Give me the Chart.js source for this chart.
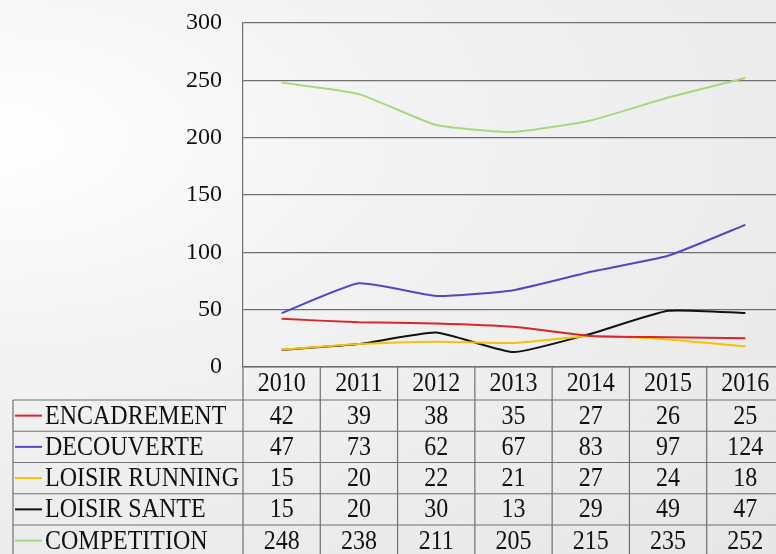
<!DOCTYPE html>
<html>
<head>
<meta charset="utf-8">
<script src="https://cdn.jsdelivr.net/npm/chart.js@4.4.0/dist/chart.umd.min.js"></script>
<style>
    html, body {
        margin: 0;
        padding: 0;
        width: 776px;
        height: 554px;
        overflow: hidden;
        background: radial-gradient(ellipse at 0% 25%, #ffffff 0%, #f3f3f3 35%, #e6e6e6 100%);
    }
    .chart-wrap {
        position: absolute;
        left: 0;
        top: 0;
        width: 784px;
        height: 554px;
    }
</style>
</head>
<body>
<div class="chart-wrap"><canvas id="stats-chart"></canvas></div>
<script>
// Data
var years = ['2010', '2011', '2012', '2013', '2014', '2015', '2016'];
var seriesNames = ['ENCADREMENT', 'DECOUVERTE', 'LOISIR RUNNING', 'LOISIR SANTE', 'COMPETITION'];
var encadrement = [42, 39, 38, 35, 27, 26, 25];
var decouverte = [47, 73, 62, 67, 83, 97, 124];
var loisirRunning = [15, 20, 22, 21, 27, 24, 18];
var loisirSante = [15, 20, 30, 13, 29, 49, 47];
var competition = [248, 238, 211, 205, 215, 235, 252];
var yTicks = [0, 50, 100, 150, 200, 250, 300];

var seriesValues = [encadrement, decouverte, loisirRunning, loisirSante, competition];
var seriesColors = ['#d8262c', '#5048c4', '#f2c20a', '#111111', '#a9d67e'];

var gridColor = '#707070',
    textColor = '#111111',
    serifFont = '"Liberation Serif", "Times New Roman", serif';

// Table under the plot (header row + one row per series)
var tableLayout = {
    headerHeight: 33,
    rowHeight: 31.25,
    left: 13,
    lineX1: 15,
    lineX2: 42,
    textX: 45
};

function drawText(ctx, text, x, y, align) {
    ctx.save();
    ctx.translate(x, y);
    ctx.scale(1, 1.1);
    ctx.textAlign = align;
    ctx.textBaseline = 'middle';
    ctx.fillText(text, 0, 0);
    ctx.restore();
}

var dataTable = {
    id: 'dataTable',
    afterDraw: function (chart) {
        var ctx = chart.ctx,
            xScale = chart.scales.x,
            area = chart.chartArea,
            top = area.bottom,
            rowsTop = top + tableLayout.headerHeight,
            bottom = rowsTop + tableLayout.rowHeight * seriesNames.length,
            colW = xScale.getPixelForValue(1) - xScale.getPixelForValue(0);

        ctx.save();
        ctx.strokeStyle = gridColor;
        ctx.lineWidth = 1.2;

        // horizontal lines
        ctx.beginPath();
        ctx.moveTo(area.left, top);
        ctx.lineTo(chart.width, top);
        for (var r = 0; r <= seriesNames.length; r++) {
            var y = rowsTop + r * tableLayout.rowHeight;
            ctx.moveTo(tableLayout.left, y);
            ctx.lineTo(chart.width, y);
        }
        // vertical lines
        ctx.moveTo(tableLayout.left, rowsTop);
        ctx.lineTo(tableLayout.left, bottom);
        for (var c = 0; c <= years.length; c++) {
            var x = xScale.getPixelForValue(0) - colW / 2 + c * colW;
            ctx.moveTo(x, top);
            ctx.lineTo(x, bottom);
        }
        ctx.stroke();

        ctx.fillStyle = textColor;
        ctx.font = '24px ' + serifFont;

        // header
        years.forEach(function (yr, i) {
            drawText(ctx, yr, xScale.getPixelForValue(i), top + tableLayout.headerHeight / 2 + 1, 'center');
        });

        // rows
        seriesNames.forEach(function (name, s) {
            var cy = rowsTop + s * tableLayout.rowHeight + tableLayout.rowHeight / 2 + 1;
            ctx.strokeStyle = seriesColors[s];
            ctx.lineWidth = 2;
            ctx.beginPath();
            ctx.moveTo(tableLayout.lineX1, cy - 1);
            ctx.lineTo(tableLayout.lineX2, cy - 1);
            ctx.stroke();
            drawText(ctx, name, tableLayout.textX, cy, 'left');
            seriesValues[s].forEach(function (v, i) {
                drawText(ctx, String(v), xScale.getPixelForValue(i), cy, 'center');
            });
        });
        ctx.restore();
    }
};

var datasets = seriesNames.map(function (name, s) {
    return {
        label: name,
        data: seriesValues[s],
        borderColor: seriesColors[s],
        backgroundColor: seriesColors[s],
        borderWidth: 2,
        pointRadius: 0,
        tension: 0.15,
        fill: false
    };
});

var chart = new Chart(document.getElementById('stats-chart'), {
    type: 'line',
    data: {
        labels: years,
        datasets: datasets
    },
    options: {
        responsive: true,
        maintainAspectRatio: false,
        animation: false,
        layout: {
            padding: { top: 23, left: 0, right: 0, bottom: 0 }
        },
        plugins: {
            legend: { display: false },
            tooltip: { enabled: false }
        },
        scales: {
            x: {
                offset: true,
                grid: { display: false, drawTicks: false },
                border: { display: false },
                ticks: { display: false },
                afterFit: function (scale) {
                    scale.height = 187;
                }
            },
            y: {
                min: 0,
                max: 300,
                afterBuildTicks: function (scale) {
                    scale.ticks = yTicks.map(function (v) { return { value: v }; });
                },
                grid: {
                    color: gridColor,
                    lineWidth: 1.2,
                    drawTicks: false
                },
                border: { display: true, color: gridColor, width: 1.2 },
                ticks: {
                    color: textColor,
                    padding: 21,
                    font: { family: serifFont, size: 24 }
                },
                afterFit: function (scale) {
                    scale.width = 243;
                    scale.paddingTop = 0;
                    scale.paddingBottom = 0;
                }
            }
        }
    },
    plugins: [dataTable]
});
</script>
</body>
</html>
